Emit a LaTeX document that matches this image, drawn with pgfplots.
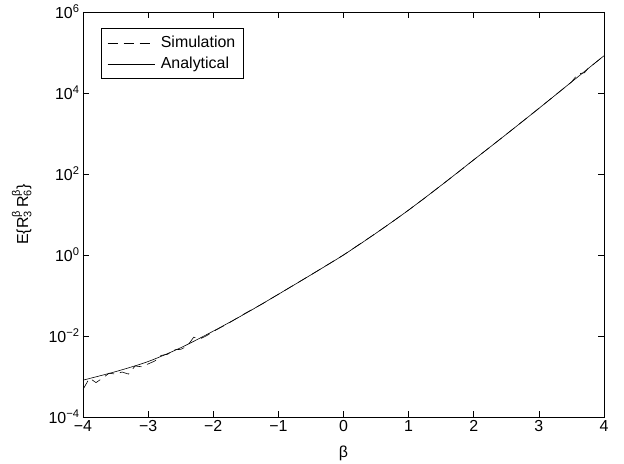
\documentclass[border=0pt]{standalone}
\usepackage{fontspec}
\setmainfont{Liberation Sans}
\usepackage{pgfplots}
\pgfplotsset{compat=1.18}
\newcommand{\fs}{\fontsize{16}{18.5}\selectfont}
\newcommand{\supsub}[2]{$^{\mbox{\fontsize{11}{12}\selectfont #1}}_{\mbox{\fontsize{11}{12}\selectfont #2}}$}
\begin{document}
\begin{tikzpicture}
\begin{axis}[
  scale only axis, width=521bp, height=405bp,
  xmin=-4, xmax=4, ymode=log, ymin=1e-4, ymax=1e6,
  xtick={-4,-3,-2,-1,0,1,2,3,4},
  xticklabels={−4,−3,−2,−1,0,1,2,3,4},
  ytick={1e-4,1e-2,1,1e2,1e4,1e6},
  yticklabels={10\textsuperscript{−4},10\textsuperscript{−2},10\textsuperscript{0},10\textsuperscript{2},10\textsuperscript{4},10\textsuperscript{6}},
  yminorticks=false,
  major tick length=6bp, tick style={line width=0.6bp, black},
  axis line style={line width=0.6bp},
  every tick label/.append style={font=\fs},
  xlabel={β}, ylabel={E\{R\supsub{β}{3}\,R\supsub{β}{6}\}},
  label style={font=\fs},
  xlabel style={at={(axis description cs:0.5,-0.062)},anchor=north},
  ylabel style={at={(axis description cs:-0.092,0.5)},anchor=south},
  legend style={at={(0.0345,0.9605)},anchor=north west,font=\fs,
    draw=black,line width=0.6bp,inner xsep=6bp,inner ysep=6bp,row sep=4bp,
    /tikz/column 1/.style={column sep=4bp}},
  legend cell align=left,
  legend image code/.code={\draw[#1] (0bp,0bp) -- (47bp,0bp);},
]
\addplot[black, line width=0.6bp, dash pattern=on 10bp off 6bp] coordinates {
(-4.0,4.79e-4)(-3.9,9.12e-4)(-3.8,7.08e-4)(-3.7,9.12e-4)(-3.6,1.202e-3)
(-3.5,1.148e-3)(-3.4,1.288e-3)(-3.3,1.148e-3)(-3.2,1.820e-3)(-3.1,1.738e-3)
(-3.0,2.042e-3)(-2.9,2.399e-3)(-2.8,3.311e-3)(-2.7,3.548e-3)(-2.6,4.571e-3)
(-2.5,4.677e-3)(-2.4,5.623e-3)(-2.3,9.333e-3)(-2.2,8.511e-3)(-2.1,1.023e-2)
(-2.0,1.288e-2)(-1.75,2.138e-2)(-1.5,3.715e-2)(-1.25,6.166e-2)(-1.0,0.1072)
(-0.75,0.1862)(-0.5,0.3236)(-0.25,0.5689)(0,1)(0.25,1.862)(0.5,3.467)
(0.75,6.607)(1.0,12.88)(1.25,25.70)(1.5,52.48)(1.75,107.2)(2.0,223.9)
(2.25,462.4)(2.5,955)(2.75,1995)(3.0,4169)(3.25,8810)(3.5,18620)
(3.6,29510)(3.7,31620)(3.75,39360)(4.0,83180)};
\addlegendentry{Simulation}
\addplot[black, line width=0.6bp, smooth] coordinates {
(-4.0,8.128e-4)(-3.5,1.318e-3)(-3.0,2.344e-3)(-2.5,5.129e-3)(-2.0,1.318e-2)
(-1.5,3.631e-2)(-1.0,0.1072)(-0.5,0.3236)(0,1)(0.5,3.467)(1.0,12.88)
(1.5,52.48)(2.0,223.9)(2.5,955)(3.0,4169)(3.5,18620)(4.0,83180)};
\addlegendentry{Analytical}
\end{axis}
\path (current axis.south west) +(-83bp,-47bp);
\path (current axis.north east) +(20bp,12bp);
\end{tikzpicture}
\end{document}
